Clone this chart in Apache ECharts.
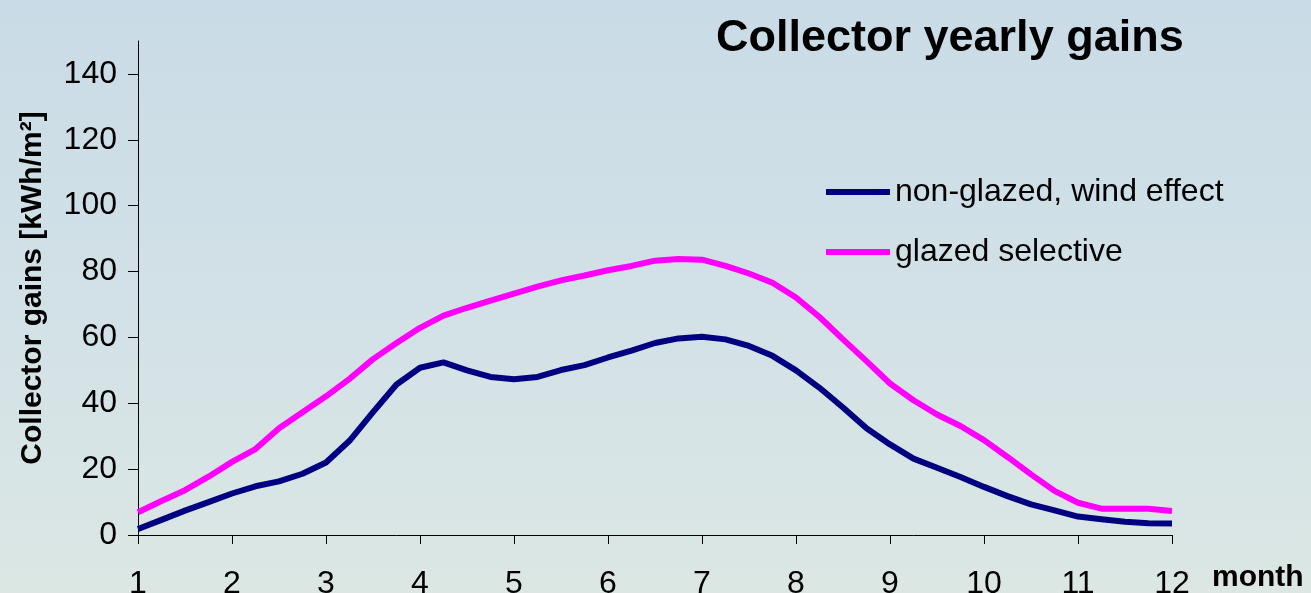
<!DOCTYPE html>
<html>
<head>
<meta charset="utf-8">
<title>Collector yearly gains</title>
<script src="https://cdn.jsdelivr.net/npm/echarts@6/dist/echarts.min.js"></script>
<style>
  html, body { margin: 0; padding: 0; }
  #chart { width: 1311px; height: 593px; }
</style>
</head>
<body>
<div id="chart"></div>
<script>
// Position along the year (month number, quarter-month steps)
const months = [
  1, 1.25, 1.5, 1.75, 2, 2.25, 2.5, 2.75, 3, 3.25, 3.5, 3.75,
  4, 4.25, 4.5, 4.75, 5, 5.25, 5.5, 5.75, 6, 6.25, 6.5, 6.75,
  7, 7.25, 7.5, 7.75, 8, 8.25, 8.5, 8.75, 9, 9.25, 9.5, 9.75,
  10, 10.25, 10.5, 10.75, 11, 11.25, 11.5, 11.75, 12
];

// Cumulative collector gains, kWh/m²
const nonGlazed = [
  1.8, 4.6, 7.4, 10.0, 12.6, 14.8, 16.3, 18.6, 22.0, 28.6, 37.3, 45.7,
  50.8, 52.4, 50.0, 48.0, 47.3, 48.0, 50.1, 51.6, 53.9, 56.0, 58.3, 59.7,
  60.2, 59.4, 57.4, 54.4, 50.0, 44.7, 38.7, 32.4, 27.5, 23.2, 20.4, 17.6,
  14.6, 11.8, 9.3, 7.5, 5.6, 4.8, 4.0, 3.6, 3.5
];
const glazedSelective = [
  6.9, 10.3, 13.6, 17.7, 22.2, 26.1, 32.4, 37.3, 42.1, 47.4, 53.4, 58.3,
  62.9, 66.6, 69.0, 71.2, 73.3, 75.4, 77.3, 78.8, 80.4, 81.7, 83.3, 83.8,
  83.6, 81.7, 79.4, 76.6, 72.1, 66.2, 59.4, 52.8, 46.0, 40.9, 36.6, 33.1,
  28.8, 23.7, 18.4, 13.4, 9.8, 8.0, 8.0, 8.0, 7.3
];

const seriesNames = ['non-glazed, wind effect', 'glazed selective'];
const xTicks = [1, 2, 3, 4, 5, 6, 7, 8, 9, 10, 11, 12];
const yTicks = [0, 20, 40, 60, 80, 100, 120, 140];

const FONT = '"Liberation Sans", Arial, sans-serif';

const pairs = (xs, ys) => xs.map((x, i) => [x, ys[i]]);

const chart = echarts.init(document.getElementById('chart'), null, { renderer: 'canvas' });

chart.setOption({
  backgroundColor: {
    type: 'linear', x: 0, y: 0, x2: 0, y2: 1,
    colorStops: [
      { offset: 0, color: '#c9dbe6' },
      { offset: 0.5, color: '#d2e1e7' },
      { offset: 1, color: '#dce7e4' }
    ]
  },
  animation: false,
  textStyle: { fontFamily: FONT },
  title: {
    text: 'Collector yearly gains',
    left: 716,
    top: 16,
    padding: 0,
    textStyle: { fontFamily: FONT, fontSize: 45, fontWeight: 'bold', color: '#000' }
  },
  legend: {
    orient: 'vertical',
    left: 826,
    top: 176,
    padding: 0,
    icon: 'rect',
    itemWidth: 64,
    itemHeight: 6,
    itemGap: 28,
    itemTextGap: 7,
    textStyle: { fontFamily: FONT, fontSize: 32, color: '#000' },
    data: seriesNames
  },
  grid: {
    left: 138, right: 139, top: 41, bottom: 58,
    containLabel: false,
    outerBoundsMode: 'none'
  },
  xAxis: {
    type: 'value',
    min: 1,
    max: 12,
    interval: 1,
    axisLine: { show: true, onZero: false, lineStyle: { color: '#000', width: 1 } },
    axisTick: { show: true, length: 9, lineStyle: { color: '#000' }, customValues: xTicks },
    axisLabel: {
      margin: 33,
      fontFamily: FONT, fontSize: 32, color: '#000',
      customValues: xTicks
    },
    splitLine: { show: false }
  },
  yAxis: {
    type: 'value',
    min: 0,
    max: 150,
    name: 'Collector gains [kWh/m²]',
    nameLocation: 'middle',
    nameRotate: 90,
    nameGap: 90,
    nameTextStyle: { fontFamily: FONT, fontSize: 30, fontWeight: 'bold', color: '#000' },
    axisLine: { show: true, lineStyle: { color: '#000', width: 1 } },
    axisTick: { show: true, length: 10, lineStyle: { color: '#000' }, customValues: yTicks },
    axisLabel: {
      margin: 21,
      fontFamily: FONT, fontSize: 32, color: '#000',
      customValues: yTicks
    },
    splitLine: { show: false }
  },
  graphic: [
    {
      type: 'text',
      left: 1212,
      top: 563,
      style: { text: 'month', font: 'bold 30px ' + FONT, fill: '#000' }
    }
  ],
  series: [
    {
      name: seriesNames[0],
      type: 'line',
      data: pairs(months, nonGlazed),
      showSymbol: false,
      symbol: 'none',
      color: '#000080',
      lineStyle: { color: '#000080', width: 6 }
    },
    {
      name: seriesNames[1],
      type: 'line',
      data: pairs(months, glazedSelective),
      showSymbol: false,
      symbol: 'none',
      color: '#ff00ff',
      lineStyle: { color: '#ff00ff', width: 6 }
    }
  ]
});
</script>
</body>
</html>
